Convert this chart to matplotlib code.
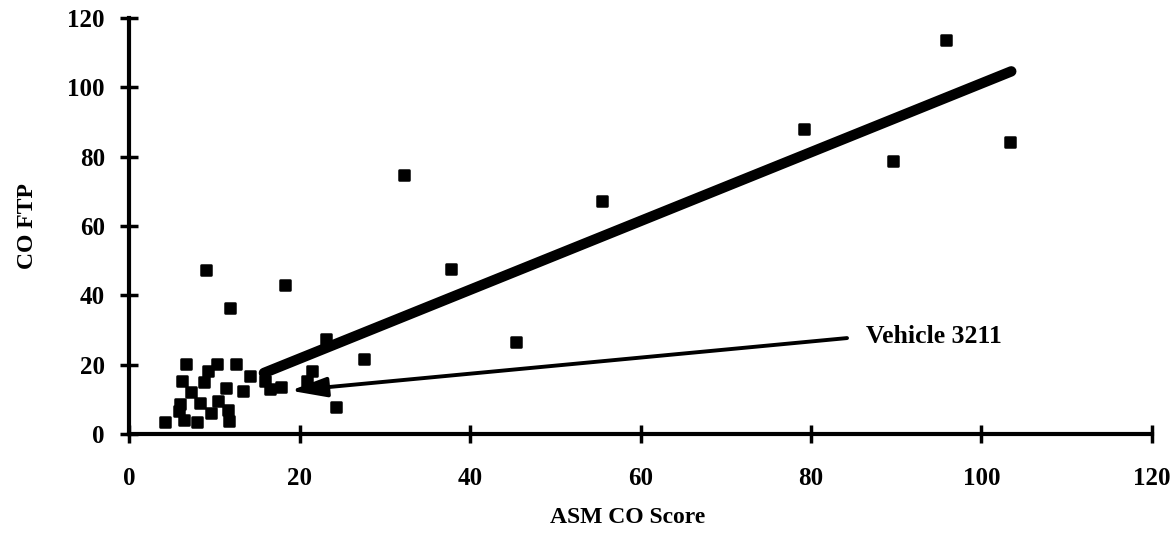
#!/usr/bin/env python3
# ASM CO score vs CO FTP scatter with fitted line

import numpy as np
from matplotlib import pyplot as plt
from matplotlib.markers import MarkerStyle

# ASM CO score (x) and CO FTP (y)
asmCO = [95.8, 79.2, 89.6, 103.4, 55.5, 32.2, 37.8, 45.4, 18.3, 9.0, 11.8,
         23.1, 27.6, 21.5, 20.8, 24.2, 16.5, 15.9, 14.2, 13.3, 17.8,
         6.6, 10.3, 12.5, 6.2, 8.8, 9.2, 11.4, 7.3, 6.0, 8.3, 10.4, 9.6,
         11.6, 11.7, 4.2, 6.4, 7.9, 5.8]
ftpCO = [113.5, 87.9, 78.8, 84.1, 67.2, 74.8, 47.5, 26.5, 42.9, 47.3, 36.4,
         27.4, 21.7, 18.2, 15.2, 7.7, 13.0, 15.2, 16.6, 12.5, 13.6,
         20.3, 20.3, 20.3, 15.4, 14.9, 18.3, 13.3, 12.0, 8.7, 8.9, 9.6, 6.2,
         6.8, 3.8, 3.6, 4.1, 3.4, 6.5]

# regression line end points
fitX = [15.8, 103.5]
fitY = [17.6, 104.6]

# highlighted vehicle
vehicleName = "Vehicle 3211"
vehiclePoint = (18.9, 12.5)

ticks = [0, 20, 40, 60, 80, 100, 120]

if __name__ == '__main__':
    plt.rcParams['font.family'] = ['Liberation Serif', 'DejaVu Serif']
    plt.rcParams['font.weight'] = 'bold'

    fig = plt.figure(figsize=(11.7, 5.46), dpi=100)
    ax = fig.add_axes([0.1105, 0.2051, 0.874, 0.762])

    sq = MarkerStyle('s', joinstyle='round')
    ax.plot(asmCO, ftpCO, linestyle='none', marker=sq, markersize=7.4,
            markerfacecolor='black', markeredgecolor='black', markeredgewidth=1.8,
            zorder=3)
    ax.plot(fitX, fitY, color='black', linewidth=7.5, solid_capstyle='round', zorder=4)

    ax.annotate(vehicleName, xy=vehiclePoint, xytext=(86.5, 28.2),
                ha='left', va='center', fontsize=18.5, fontweight='bold',
                arrowprops=dict(arrowstyle='-|>,head_length=2.2,head_width=0.6',
                                mutation_scale=10, color='black', lw=2.8,
                                shrinkA=12, shrinkB=0, relpos=(0, 0.5)),
                zorder=5)

    ax.set_xlim(0, 120)
    ax.set_ylim(0, 120)
    ax.set_xticks(ticks)
    ax.set_yticks(ticks)
    for side in ['top', 'right']:
        ax.spines[side].set_visible(False)
    for side in ['left', 'bottom']:
        ax.spines[side].set_linewidth(3)
    ax.tick_params(direction='inout', length=13, width=2.5, labelsize=18)
    ax.tick_params(axis='x', pad=17)
    ax.tick_params(axis='y', pad=11)
    for lbl in ax.get_xticklabels() + ax.get_yticklabels():
        lbl.set_fontweight('bold')

    ax.set_xlabel("ASM CO Score", fontsize=17, fontweight='bold')
    ax.set_ylabel("CO FTP", fontsize=17, fontweight='bold')
    ax.xaxis.set_label_coords(0.487, -0.2)
    ax.xaxis.label.set_va('center')
    ax.yaxis.set_label_coords(-0.1, 0.5)
    ax.yaxis.label.set_va('center')

    fig.savefig("out.png", dpi=100)
